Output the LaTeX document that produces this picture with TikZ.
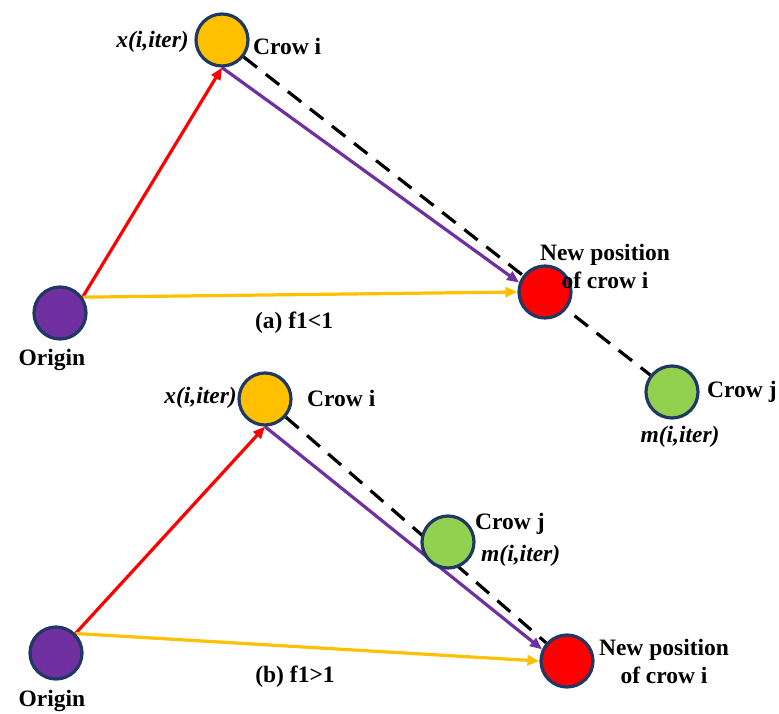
\documentclass[tikz,border=0pt]{standalone}
\usepackage{fontspec}
\setmainfont{Liberation Serif}
\usetikzlibrary{arrows.meta,backgrounds}
\definecolor{cOrange}{HTML}{FFC000}
\definecolor{cRed}{HTML}{FF0000}
\definecolor{cGreen}{HTML}{92D050}
\definecolor{cPurple}{HTML}{7030A0}
\definecolor{cBorder}{HTML}{1F3864}
\tikzset{
  crow/.style={circle,draw=cBorder,line width=3.2pt,minimum size=52pt,inner sep=0pt},
  lbl/.style={font=\fontsize{23.5}{28}\selectfont\bfseries,inner sep=0pt,align=center},
  ilbl/.style={font=\fontsize{23.5}{28}\selectfont\bfseries\itshape,inner sep=0pt},
  conn/.style={line width=3.2pt,-{Triangle[length=12pt,width=10pt]}},
  dashline/.style={line width=3.2pt,dash pattern=on 17pt off 11pt}
}
\begin{document}
\begin{tikzpicture}[x=1pt,y=-1pt]
\useasboundingbox (0,0) rectangle (779,714);
% top panel
\node[crow,fill=cOrange] (ci1) at (222,40) {};
\node[crow,fill=cRed] (r1) at (545,292) {};
\node[crow,fill=cPurple] (o1) at (60,313) {};
\node[crow,fill=cGreen] (cj1) at (672,392) {};
\node[ilbl,anchor=east] (xl1) at (189,42) {x(i,iter)};
\node[lbl,anchor=west] (cil1) at (253,46) {Crow i};
\node[lbl] (np1) at (605,266) {New position\\of crow i};
\node[lbl] (cap1) at (294,323) {(a) f1<1};
\node[lbl] (or1) at (52,360) {Origin};
\node[lbl,anchor=west] (cjl1) at (707,392) {Crow j};
\node[ilbl] (ml1) at (680,437) {m(i,iter)};
% bottom panel
\node[crow,fill=cOrange] (ci2) at (265,399) {};
\node[crow,fill=cGreen] (cj2) at (448,542) {};
\node[crow,fill=cRed] (r2) at (567,661) {};
\node[crow,fill=cPurple] (o2) at (56,653) {};
\node[ilbl,anchor=east] (xl2) at (237,398) {x(i,iter)};
\node[lbl,anchor=west] (cil2) at (307,398) {Crow i};
\node[lbl,anchor=west] (cjl2) at (475,524) {Crow j};
\node[ilbl,anchor=west] (ml2) at (481,556) {m(i,iter)};
\node[lbl] (np2) at (664,661) {New position\\of crow i};
\node[lbl] (cap2) at (295,677) {(b) f1>1};
\node[lbl] (or2) at (52,701) {Origin};
\begin{scope}[on background layer]
\draw[dashline] (ci1) -- (cj1);
\draw[dashline] (ci2) -- (r2);
\draw[conn,cRed] (o1.35) -- (ci1.south);
\draw[conn,cOrange] (o1.35) -- (r1.west);
\draw[conn,cPurple] (ci1.south) -- (r1.160);
\draw[conn,cRed] (o2.45) -- (ci2.south);
\draw[conn,cOrange] (o2.45) -- (r2.west);
\draw[conn,cPurple] (ci2.south) -- (r2.155);
\end{scope}
\end{tikzpicture}
\end{document}
